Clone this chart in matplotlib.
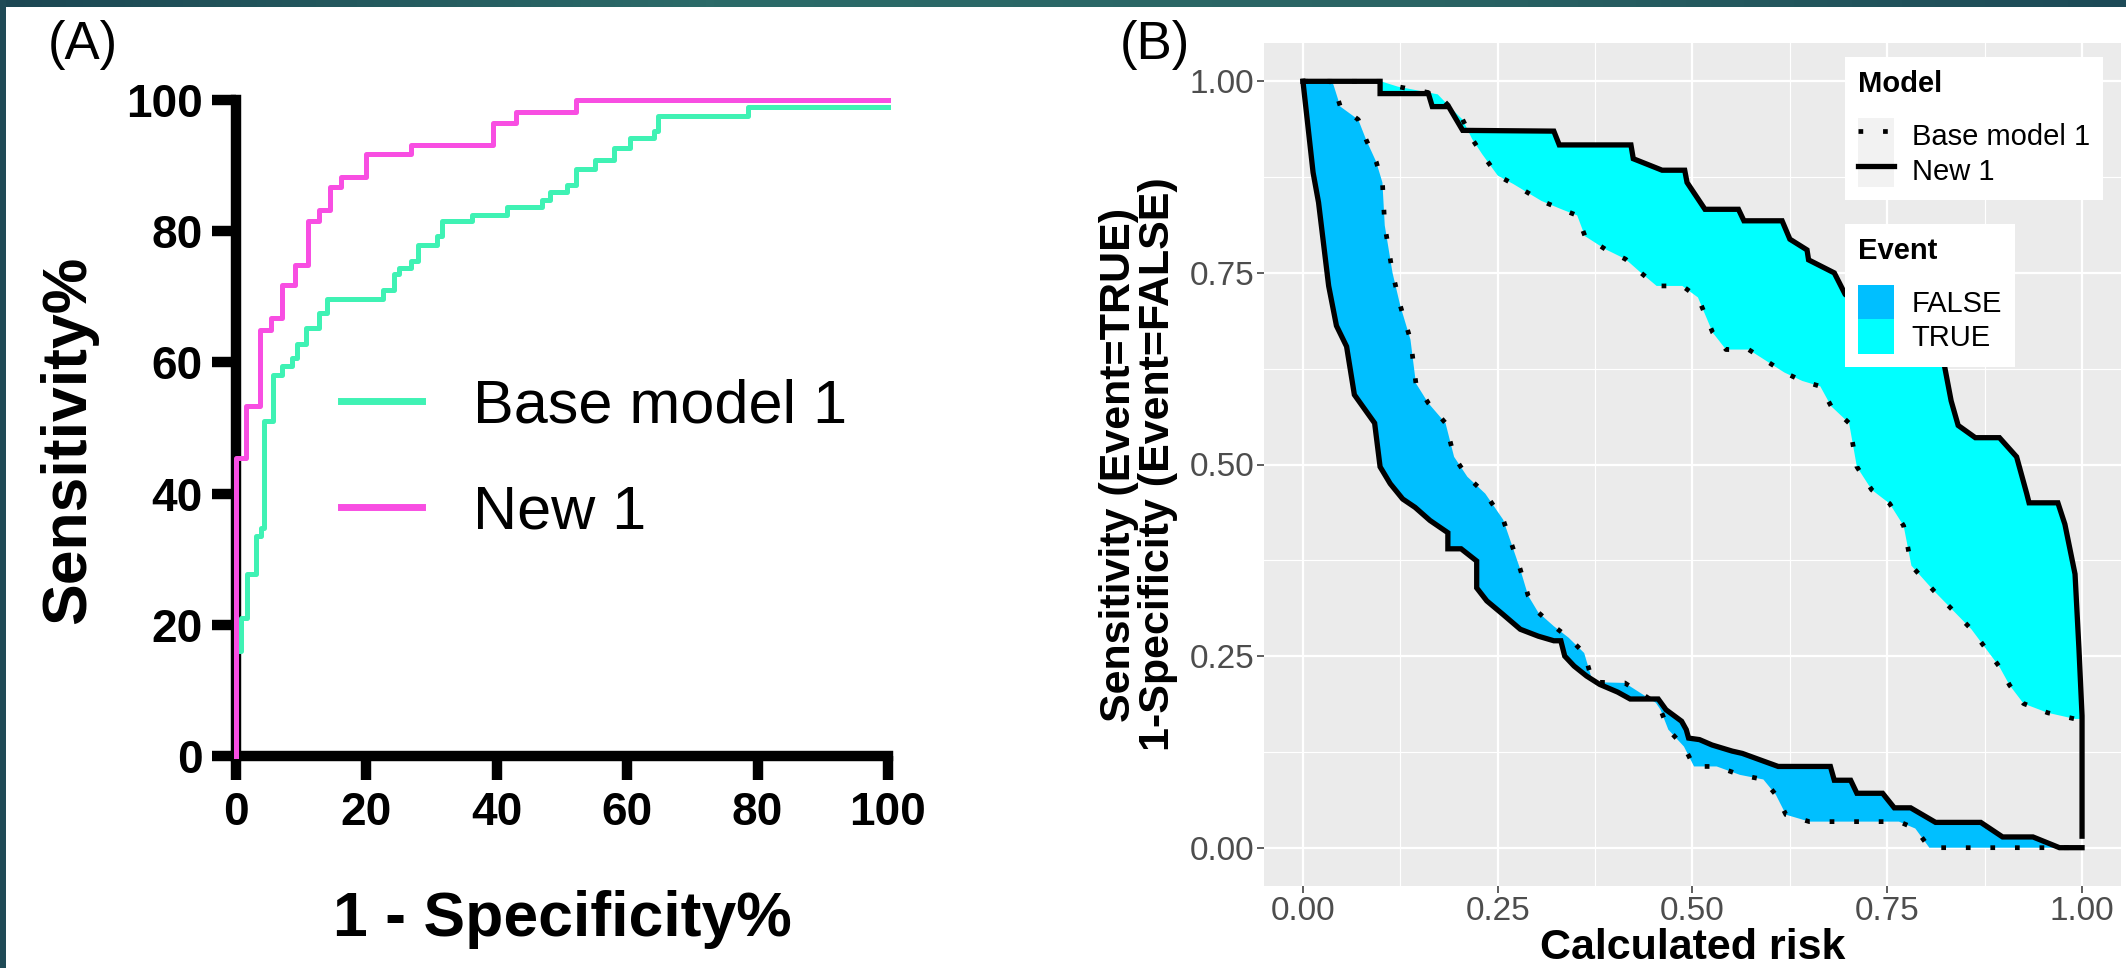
import numpy as np
import matplotlib
matplotlib.use("Agg")
import matplotlib.pyplot as plt
from matplotlib.colors import LinearSegmentedColormap
from matplotlib.patches import Rectangle, Patch
from matplotlib.lines import Line2D
from matplotlib.legend_handler import HandlerTuple

plt.rcParams['font.family'] = ['Liberation Sans', 'DejaVu Sans']

# ---------------- data: panel A (ROC, percent) ----------------
base_roc_x = [0, 0, 0.8, 1.7, 3.0, 3.9, 4.3, 5.7, 7.0, 8.6, 9.4, 10.8, 12.7, 13.9, 22.5,
              24.3, 25.0, 26.9, 27.9, 30.8, 31.6, 36.2, 41.6, 47.0, 48.1, 50.7, 52.2,
              55.0, 57.9, 60.5, 64.1, 64.8, 78.5, 100]
base_roc_y = [0, 16, 21, 27.8, 33.6, 34.7, 51.0, 58.1, 59.5, 60.6, 62.8, 65.2, 67.5, 69.7, 71.0,
              73.4, 74.4, 75.5, 77.9, 79.3, 81.5, 82.4, 83.7, 84.7, 85.9, 87.1, 89.5,
              90.8, 92.7, 94.2, 95.3, 97.6, 98.9, 98.9]
new_roc_x = [0, 0, 1.5, 3.7, 5.4, 7.1, 9.0, 11.0, 12.7, 14.4, 16.1, 19.9, 26.9, 39.4, 42.9, 52.2, 100]
new_roc_y = [0, 45.4, 53.4, 65.0, 66.8, 71.8, 74.9, 81.6, 83.2, 86.8, 88.2, 91.7, 93.2, 96.5, 98.1, 100, 100]
roc_ticks = [0, 20, 40, 60, 80, 100]

# ---------------- data: panel B (risk curves) ----------------
false_new_x = [0.0, 0.013, 0.020, 0.033, 0.043, 0.056, 0.066, 0.092, 0.099, 0.112,
               0.128, 0.144, 0.163, 0.186, 0.186, 0.203, 0.223, 0.223, 0.236, 0.256,
               0.279, 0.302, 0.322, 0.331, 0.336, 0.348, 0.364, 0.381, 0.404, 0.420,
               0.456, 0.466, 0.486, 0.492, 0.495, 0.509, 0.525, 0.551, 0.564, 0.591,
               0.610, 0.677, 0.682, 0.703, 0.711, 0.744, 0.759, 0.780, 0.812, 0.870,
               0.898, 0.937, 0.971, 1.0]
false_new_y = [1.0, 0.881, 0.842, 0.733, 0.681, 0.654, 0.591, 0.554, 0.497, 0.475,
               0.455, 0.444, 0.427, 0.411, 0.390, 0.390, 0.374, 0.339, 0.322, 0.305,
               0.285, 0.276, 0.270, 0.270, 0.250, 0.237, 0.224, 0.213, 0.203, 0.194,
               0.194, 0.180, 0.165, 0.154, 0.143, 0.141, 0.134, 0.126, 0.123, 0.113,
               0.106, 0.106, 0.088, 0.088, 0.071, 0.071, 0.052, 0.052, 0.033, 0.033,
               0.014, 0.014, 0.0, 0.0]
false_base_x = [0.0, 0.035, 0.039, 0.048, 0.071, 0.081, 0.094, 0.102, 0.105, 0.115,
                0.125, 0.138, 0.145, 0.161, 0.183, 0.194, 0.211, 0.234, 0.257, 0.279,
                0.289, 0.302, 0.322, 0.341, 0.361, 0.372, 0.413, 0.453, 0.459, 0.469,
                0.489, 0.502, 0.531, 0.561, 0.591, 0.607, 0.620, 0.650, 0.765, 0.786,
                0.804, 1.0]
false_base_y = [1.0, 1.0, 0.996, 0.967, 0.950, 0.924, 0.895, 0.868, 0.812, 0.750,
                0.707, 0.663, 0.606, 0.580, 0.554, 0.510, 0.484, 0.462, 0.428, 0.363,
                0.329, 0.307, 0.289, 0.274, 0.254, 0.216, 0.215, 0.189, 0.180, 0.154,
                0.132, 0.106, 0.106, 0.095, 0.089, 0.069, 0.043, 0.034, 0.034, 0.025,
                0.0, 0.0]
true_new_x = [0.0, 0.099, 0.099, 0.161, 0.166, 0.187, 0.205, 0.322, 0.329, 0.421,
              0.424, 0.461, 0.490, 0.493, 0.516, 0.559, 0.566, 0.615, 0.625, 0.647,
              0.649, 0.682, 0.696, 0.74, 0.79, 0.823, 0.832, 0.841, 0.863, 0.894,
              0.916, 0.929, 0.932, 0.969, 0.978, 0.991, 0.996, 1.0, 1.0]
true_new_y = [1.0, 1.0, 0.984, 0.984, 0.967, 0.967, 0.936, 0.935, 0.917, 0.917,
              0.899, 0.884, 0.884, 0.868, 0.833, 0.833, 0.818, 0.818, 0.794, 0.780,
              0.767, 0.750, 0.722, 0.69, 0.66, 0.631, 0.583, 0.551, 0.535, 0.535,
              0.510, 0.462, 0.450, 0.450, 0.422, 0.357, 0.260, 0.172, 0.015]
true_base_x = [0.0, 0.100, 0.122, 0.173, 0.190, 0.205, 0.217, 0.230, 0.250, 0.270,
               0.306, 0.332, 0.352, 0.362, 0.388, 0.414, 0.434, 0.454, 0.487, 0.507,
               0.526, 0.543, 0.572, 0.618, 0.641, 0.664, 0.678, 0.701, 0.711, 0.730,
               0.753, 0.771, 0.781, 0.810, 0.858, 0.894, 0.907, 0.925, 0.956, 0.991, 1.0]
true_base_y = [1.0, 1.0, 0.993, 0.983, 0.965, 0.950, 0.925, 0.905, 0.877, 0.866,
               0.844, 0.833, 0.825, 0.798, 0.781, 0.768, 0.750, 0.733, 0.733, 0.718,
               0.672, 0.650, 0.650, 0.620, 0.609, 0.602, 0.576, 0.554, 0.497, 0.467,
               0.449, 0.420, 0.368, 0.335, 0.285, 0.236, 0.212, 0.188, 0.176, 0.168, 0.168]
risk_ticks = [0, 0.25, 0.5, 0.75, 1.0]
risk_minor = [0.125, 0.375, 0.625, 0.875]
event_labels = ['FALSE', 'TRUE']
model_labels = ['Base model 1', 'New 1']

green = '#3ff2b4'
pink = '#f84ee2'
col_false = '#00BFFF'
col_true = '#00FFFF'

W, H = 2126, 968
fig = plt.figure(figsize=(W / 100, H / 100), dpi=100)
fig.patch.set_facecolor('white')

# dark frame (top gradient band + left strip)
band = fig.add_axes([0, 1 - 7 / H, 1, 7 / H])
cmap = LinearSegmentedColormap.from_list('band', ['#1c4753', '#2c6b69', '#2a6464', '#1d4a57'])
band.imshow(np.linspace(0, 1, 256)[None, :], aspect='auto', cmap=cmap)
band.axis('off')
fig.add_artist(Rectangle((0, 0), 6 / W, 1, transform=fig.transFigure, color='#1f4a56', lw=0))

# ---------------- panel A ----------------
axA = fig.add_axes([236 / W, 1 - 756 / H, 652 / W, 656 / H])
axA.step(base_roc_x, base_roc_y, where='post', color=green, lw=3.6, clip_on=False,
         zorder=3, label=model_labels[0])
axA.step(new_roc_x, new_roc_y, where='post', color=pink, lw=3.6, clip_on=False,
         zorder=4, label=model_labels[1])
axA.set_xlim(0, 100)
axA.set_ylim(0, 100)
axA.set_xticks(roc_ticks)
axA.set_yticks(roc_ticks)
for s in ['top', 'right']:
    axA.spines[s].set_visible(False)
for s in ['left', 'bottom']:
    axA.spines[s].set_linewidth(7.5)
axA.tick_params(width=7.5, length=17, labelsize=33)
axA.tick_params(axis='y', pad=7)
axA.tick_params(axis='x', pad=8)
plt.setp(axA.get_xticklabels() + axA.get_yticklabels(), fontweight='bold')
axA.set_xlabel('1 - Specificity%', fontsize=45, fontweight='bold')
axA.set_ylabel('Sensitivity%', fontsize=45, fontweight='bold')
axA.xaxis.set_label_coords(0.5, -0.204)
axA.yaxis.set_label_coords(-0.211, 0.482)
legA = axA.legend(loc='upper left', bbox_to_anchor=(0.161, 0.575), frameon=False, fontsize=44,
                  handlelength=1.33, handletextpad=0.83, labelspacing=0.8,
                  borderpad=0, borderaxespad=0)
for h in legA.get_lines():
    h.set_linewidth(5)
fig.text(48 / W, 1 - 20 / H, '(A)', fontsize=38, va='top', ha='left')

# ---------------- panel B ----------------
axB = fig.add_axes([1264 / W, 1 - 886 / H, 857 / W, 843 / H])
axB.set_facecolor('#EBEBEB')
axB.fill(np.r_[false_new_x, false_base_x[::-1]], np.r_[false_new_y, false_base_y[::-1]],
         color=col_false, lw=0, zorder=2)
axB.fill(np.r_[true_new_x, true_base_x[::-1]], np.r_[true_new_y, true_base_y[::-1]],
         color=col_true, lw=0, zorder=2)
dots = (0, (1, 4.2))
for xs, ys in [(false_base_x, false_base_y), (true_base_x, true_base_y)]:
    axB.plot(xs, ys, color='black', lw=3.4, linestyle=dots, zorder=3)
for xs, ys in [(false_new_x, false_new_y), (true_new_x, true_new_y)]:
    axB.plot(xs, ys, color='black', lw=3.8, zorder=4, solid_joinstyle='miter')
axB.set_xlim(-0.05, 1.05)
axB.set_ylim(-0.05, 1.05)
axB.set_xticks(risk_ticks)
axB.set_yticks(risk_ticks)
axB.set_xticklabels(['%.2f' % v for v in risk_ticks])
axB.set_yticklabels(['%.2f' % v for v in risk_ticks])
axB.set_xticks(risk_minor, minor=True)
axB.set_yticks(risk_minor, minor=True)
axB.grid(which='major', color='white', lw=1.6)
axB.grid(which='minor', color='white', lw=0.8)
axB.set_axisbelow(True)
for s in axB.spines.values():
    s.set_visible(False)
axB.tick_params(which='major', length=5, width=1.1, color='#333333', labelcolor='#4D4D4D',
                labelsize=24, pad=2)
axB.tick_params(which='minor', length=0)
axB.set_xlabel('Calculated risk', fontsize=31, fontweight='bold')
axB.set_ylabel('Sensitivity (Event=TRUE)\n1-Specificity (Event=FALSE)', fontsize=31,
               fontweight='bold', linespacing=0.97)
axB.xaxis.set_label_coords(0.5, -0.05)
axB.yaxis.set_label_coords(-0.1, 0.5)
fig.text(1120 / W, 1 - 20 / H, '(B)', fontsize=38, va='top', ha='left')

key_bg = dict(facecolor='#F2F2F2', edgecolor='none')
model_handles = [
    (Rectangle((0, 0), 1, 1, **key_bg), Line2D([], [], color='black', lw=3.4, linestyle=dots)),
    (Rectangle((0, 0), 1, 1, **key_bg), Line2D([], [], color='black', lw=3.8)),
]
leg_kw = dict(loc='upper left', fontsize=21, title_fontproperties={'weight': 'bold', 'size': 21},
              handlelength=1.24, handleheight=1.45, labelspacing=0, handletextpad=0.6,
              borderpad=0.45, borderaxespad=0, frameon=True, fancybox=False, framealpha=1,
              facecolor='white', edgecolor='none', alignment='left')
leg1 = axB.legend(model_handles, model_labels, title='Model', bbox_to_anchor=(0.678, 0.983),
                  handler_map={tuple: HandlerTuple(ndivide=1, pad=0)}, **leg_kw)
leg1._legend_box.sep = 14
axB.add_artist(leg1)
event_handles = [Patch(facecolor=col_false, edgecolor='none'),
                 Patch(facecolor=col_true, edgecolor='none')]
leg2 = axB.legend(event_handles, event_labels, title='Event', bbox_to_anchor=(0.678, 0.785),
                  **leg_kw)
leg2._legend_box.sep = 14

fig.savefig('out.png', dpi=100)
